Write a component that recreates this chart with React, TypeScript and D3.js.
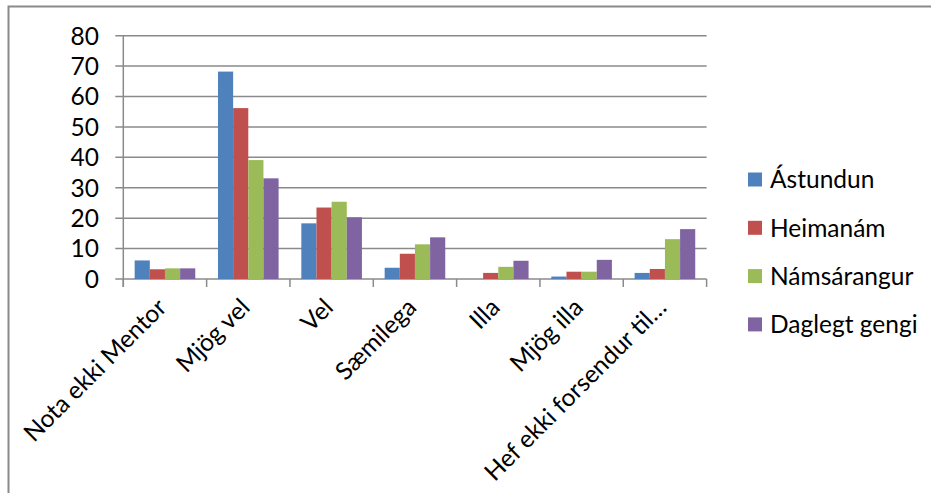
import { useEffect, useRef } from "react";
import * as d3 from "d3";

const categories = [
  "Nota ekki Mentor",
  "Mjög vel",
  "Vel",
  "Sæmilega",
  "Illa",
  "Mjög illa",
  "Hef ekki forsendur til…",
];
const seriesNames = ["Ástundun", "Heimanám", "Námsárangur", "Daglegt gengi"];
const astundun = [6.1, 68.2, 18.3, 3.7, 0, 0.8, 2.0];
const heimanam = [3.2, 56.2, 23.5, 8.3, 2.0, 2.4, 3.3];
const namsarangur = [3.5, 39.1, 25.4, 11.4, 4.0, 2.4, 13.1];
const daglegtGengi = [3.5, 33.1, 20.3, 13.7, 6.0, 6.3, 16.4];
const yTicks = [0, 10, 20, 30, 40, 50, 60, 70, 80];
const colors = ["#4F81BD", "#C0504D", "#9BBB59", "#8064A2"];

const App = () => {
  const svgRef = useRef<SVGSVGElement | null>(null);

  useEffect(() => {
    const width = 931;
    const height = 493;
    const font = "Lato, 'Open Sans', sans-serif";
    const fontSize = 24.5;
    const grid = "#8a8a8a";

    const svg = d3.select(svgRef.current).attr("width", width).attr("height", height);
    svg.selectAll("*").remove();

    // outer frame (right/bottom edges fall outside the picture)
    svg
      .append("rect")
      .attr("x", 8.5)
      .attr("y", 6.5)
      .attr("width", 1000)
      .attr("height", 1000)
      .attr("fill", "white")
      .attr("stroke", grid)
      .attr("stroke-width", 2);

    const plot = { left: 123.3, right: 706.6, top: 35.7, bottom: 279 };

    const x0 = d3.scaleBand().domain(categories).range([plot.left, plot.right]).paddingInner(0).paddingOuter(0);
    const x1 = d3
      .scaleBand()
      .domain(seriesNames)
      .range([0, x0.bandwidth()])
      .paddingInner(0)
      .paddingOuter(0.75);
    const y = d3.scaleLinear().domain([0, 80]).range([plot.bottom, plot.top]);

    // gridlines + y ticks
    svg
      .append("g")
      .selectAll("line")
      .data(yTicks)
      .join("line")
      .attr("x1", plot.left - 8)
      .attr("x2", plot.right)
      .attr("y1", (d) => y(d))
      .attr("y2", (d) => y(d))
      .attr("stroke", grid)
      .attr("stroke-width", 1.5);

    // y axis line
    svg
      .append("line")
      .attr("x1", plot.left)
      .attr("x2", plot.left)
      .attr("y1", plot.top)
      .attr("y2", plot.bottom + 8)
      .attr("stroke", grid)
      .attr("stroke-width", 1.5);

    // x ticks at category boundaries
    const bounds = categories.map((c) => x0(c) as number).concat([plot.right]);
    svg
      .append("g")
      .selectAll("line")
      .data(bounds)
      .join("line")
      .attr("x1", (d) => d)
      .attr("x2", (d) => d)
      .attr("y1", plot.bottom)
      .attr("y2", plot.bottom + 8)
      .attr("stroke", grid)
      .attr("stroke-width", 1.5);

    // y labels
    svg
      .append("g")
      .selectAll("text")
      .data(yTicks)
      .join("text")
      .attr("x", 99)
      .attr("y", (d) => y(d))
      .attr("dy", "0.36em")
      .attr("text-anchor", "end")
      .attr("font-family", font)
      .attr("font-size", fontSize)
      .attr("fill", "#000")
      .text((d) => d);

    // bars
    const seriesValues = [astundun, heimanam, namsarangur, daglegtGengi];
    const flat = categories.flatMap((c, ci) =>
      seriesNames.map((s, si) => ({ c, s, si, v: seriesValues[si][ci] }))
    );
    svg
      .append("g")
      .selectAll("rect")
      .data(flat)
      .join("rect")
      .attr("x", (d) => (x0(d.c) as number) + (x1(d.s) as number))
      .attr("y", (d) => y(d.v))
      .attr("width", x1.bandwidth())
      .attr("height", (d) => Math.max(0, y(0) - y(d.v)))
      .attr("fill", (d) => colors[d.si]);

    // x labels, rotated
    svg
      .append("g")
      .selectAll("text")
      .data(categories)
      .join("text")
      .attr(
        "transform",
        (d) => `translate(${(x0(d) as number) + x0.bandwidth() / 2 + 3},${plot.bottom + 30}) rotate(-45)`
      )
      .attr("text-anchor", "end")
      .attr("font-family", font)
      .attr("font-size", fontSize)
      .attr("fill", "#000")
      .text((d) => d);

    // legend
    const legend = svg.append("g").attr("transform", "translate(748,179.5)");
    const item = legend
      .selectAll("g")
      .data(seriesNames)
      .join("g")
      .attr("transform", (_: any, i: number) => `translate(0,${i * 48.3})`);
    item
      .append("rect")
      .attr("x", 0)
      .attr("y", -7)
      .attr("width", 14)
      .attr("height", 14)
      .attr("fill", (_: any, i: number) => colors[i]);
    item
      .append("text")
      .attr("x", 22)
      .attr("y", 0)
      .attr("dy", "0.36em")
      .attr("font-family", font)
      .attr("font-size", fontSize)
      .attr("fill", "#000")
      .text((d) => d);
  }, []);

  return (
    <div style={{ position: "absolute", left: 0, top: 0 }}>
      <svg ref={svgRef} style={{ display: "block" }} />
    </div>
  );
};

export default App;
